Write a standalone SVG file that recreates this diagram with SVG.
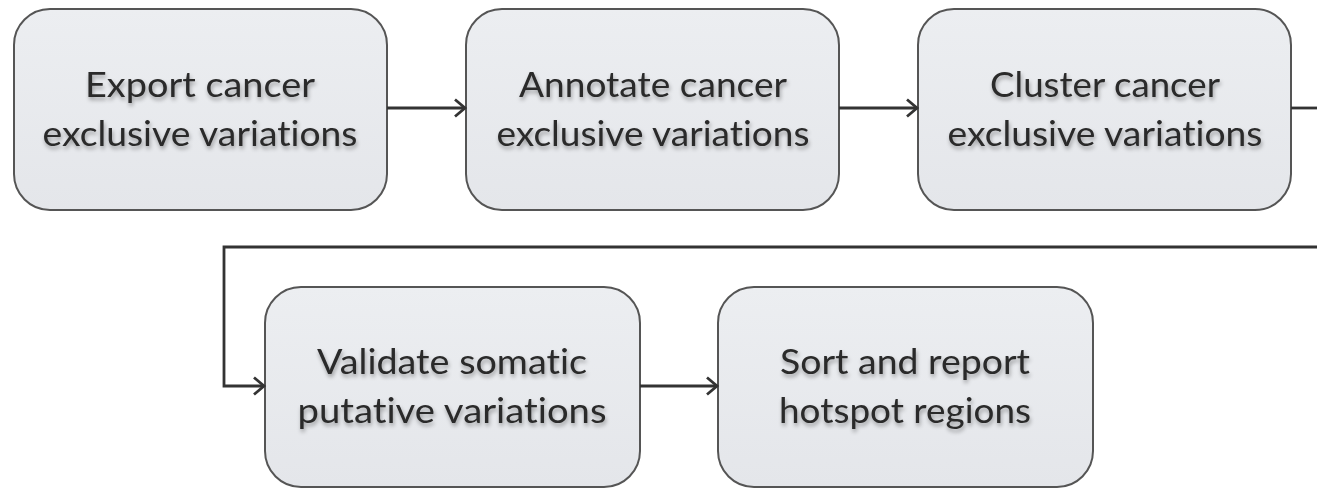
<svg xmlns="http://www.w3.org/2000/svg" width="1317" height="489" viewBox="0 0 1317 489">
<defs>
<linearGradient id="g" x1="0" y1="0" x2="0" y2="1">
<stop offset="0" stop-color="#eceef1"/>
<stop offset="1" stop-color="#e4e6ea"/>
</linearGradient>
<filter id="ts" x="-10%" y="-30%" width="120%" height="160%">
<feGaussianBlur in="SourceAlpha" stdDeviation="2"/>
<feOffset dx="1" dy="3" result="b"/>
<feComponentTransfer><feFuncA type="linear" slope="0.35"/></feComponentTransfer>
<feMerge><feMergeNode/><feMergeNode in="SourceGraphic"/></feMerge>
</filter>
<marker id="ah" markerWidth="16" markerHeight="22" refX="13" refY="11" orient="auto" markerUnits="userSpaceOnUse">
<path d="M3,2.5 L13,11 L3,19.5" fill="none" stroke="#333" stroke-width="2.8"/>
</marker>
</defs>
<style>
.box{fill:url(#g);stroke:#555;stroke-width:2}
.lbl{font-family:Lato,"Open Sans",sans-serif;font-size:35px;fill:#2a2a2a;text-anchor:middle;filter:url(#ts);font-variant-ligatures:none}
.con{fill:none;stroke:#333;stroke-width:2.8}
</style>
<rect width="1317" height="489" fill="#fff"/>
<g id="n1">
<rect class="box" x="14" y="9" width="373" height="201" rx="36"/>
<text class="lbl" x="200" y="97" textLength="230" lengthAdjust="spacingAndGlyphs">Export cancer</text>
<text class="lbl" x="200" y="146" textLength="315" lengthAdjust="spacingAndGlyphs">exclusive variations</text>
</g>
<g id="n2">
<rect class="box" x="466" y="9" width="373" height="201" rx="36"/>
<text class="lbl" x="653" y="97" textLength="268" lengthAdjust="spacingAndGlyphs">Annotate cancer</text>
<text class="lbl" x="653" y="146" textLength="313" lengthAdjust="spacingAndGlyphs">exclusive variations</text>
</g>
<g id="n3">
<rect class="box" x="918" y="9" width="373" height="201" rx="36"/>
<text class="lbl" x="1105" y="97" textLength="230" lengthAdjust="spacingAndGlyphs">Cluster cancer</text>
<text class="lbl" x="1105" y="146" textLength="315" lengthAdjust="spacingAndGlyphs">exclusive variations</text>
</g>
<g id="n4">
<rect class="box" x="265" y="287" width="375" height="200" rx="36"/>
<text class="lbl" x="452" y="374" textLength="270" lengthAdjust="spacingAndGlyphs">Validate somatic</text>
<text class="lbl" x="452" y="423" textLength="309" lengthAdjust="spacingAndGlyphs">putative variations</text>
</g>
<g id="n5">
<rect class="box" x="718" y="287" width="375" height="200" rx="36"/>
<text class="lbl" x="905" y="374" textLength="250" lengthAdjust="spacingAndGlyphs">Sort and report</text>
<text class="lbl" x="905" y="423" textLength="252" lengthAdjust="spacingAndGlyphs">hotspot regions</text>
</g>
<g id="connectors">
<path class="con" d="M387,108 H465" marker-end="url(#ah)"/>
<path class="con" d="M839,108 H917" marker-end="url(#ah)"/>
<path class="con" d="M1291,108 H1317"/>
<path class="con" d="M1317,247 H224 V386 H264" marker-end="url(#ah)"/>
<path class="con" d="M640,386 H717" marker-end="url(#ah)"/>
</g>
</svg>
